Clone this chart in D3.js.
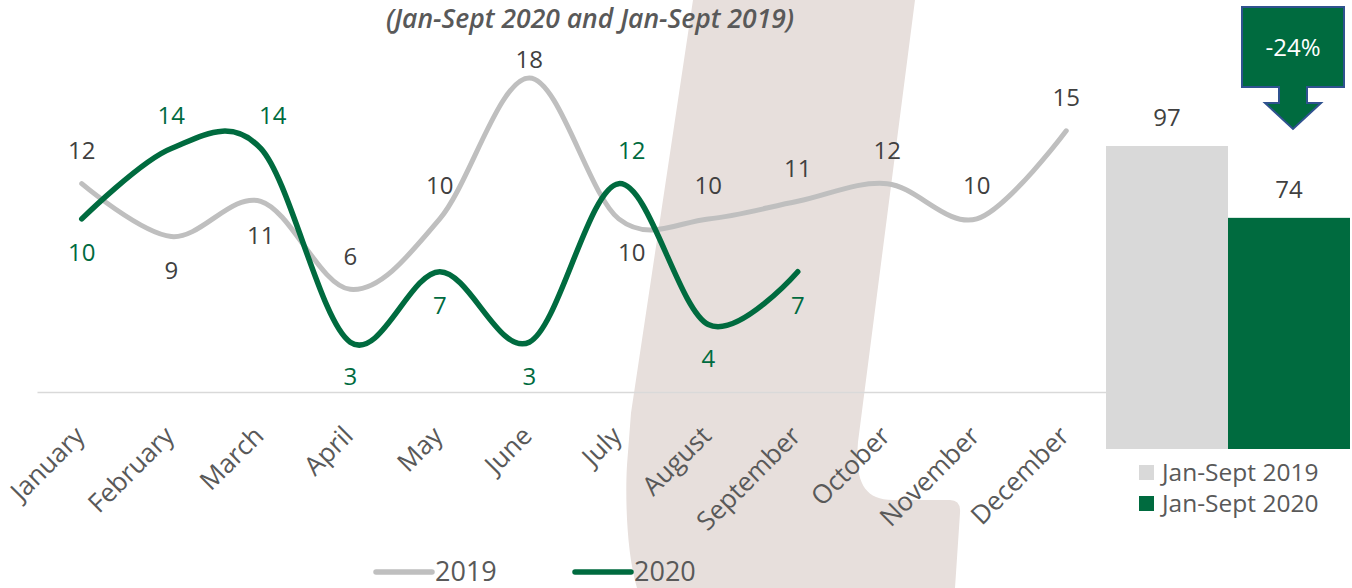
<!DOCTYPE html>
<html>
<head>
<meta charset="utf-8">
<script src="https://cdn.jsdelivr.net/npm/d3@7"></script>
<style>
  body { margin: 0; background: #fff; }
  text { font-family: "Open Sans", sans-serif; }
</style>
</head>
<body>
<div class="chart"></div>
<script>
// monthly values
const months = ['January', 'February', 'March', 'April', 'May', 'June', 'July',
  'August', 'September', 'October', 'November', 'December'];
const values2019 = [12, 9, 11, 6, 10, 18, 10, 10, 11, 12, 10, 15];
const values2020 = [10, 14, 14, 3, 7, 3, 12, 4, 7];

// where each data label sits (a = above the point, b = below)
const place2019 = ['a', 'b', 'b', 'a', 'a', 'a', 'b', 'a', 'a', 'a', 'a', 'a'];
const place2020 = ['b', 'a', 'a', 'b', 'b', 'b', 'a', 'b', 'b'];

// totals for the small bar chart on the right
const totalNames = ['Jan-Sept 2019', 'Jan-Sept 2020'];
const totals = [97, 74];

const title = '(Jan-Sept 2020 and Jan-Sept 2019)';

const grey = '#bfbfbf';
const green = '#006b3f';
const barGrey = '#d9d9d9';

const width = 1352;
const height = 588;

const svg = d3.select('.chart')
  .append('svg')
  .attr('width', width)
  .attr('height', height);

// big beige letter shape in the background
svg.append('path')
  .attr('d', 'M693,0 L915,0 L858,442 C855,478 862,500 893,500 L950,500 Q961,500 960,513 L955,588 L637,588 C627,555 625,500 627,465 L631,413 Z')
  .style('fill', '#e7dfdc');

// scales for the line chart
const x = d3.scaleBand()
  .domain(months)
  .range([37, 1111])
  .padding(0);

const y = d3.scaleLinear()
  .domain([0, 18])
  .range([395, 78]);

const cx = (d, i) => x(months[i]) + x.bandwidth() / 2;

// month axis, the domain line doubles as the baseline
const axis = svg.append('g')
  .attr('transform', 'translate(0,392)')
  .call(d3.axisBottom(x).tickSize(0).tickSizeOuter(0));

axis.select('.domain')
  .attr('stroke', '#d9d9d9')
  .attr('stroke-width', 1.5);

axis.selectAll('text')
  .attr('y', 0)
  .attr('dy', '0.35em')
  .attr('text-anchor', 'end')
  .attr('transform', 'translate(-2,39) rotate(-45)')
  .style('font-family', '"Open Sans", sans-serif')
  .style('font-size', '26px')
  .style('fill', '#595959');

const line = d3.line()
  .x(cx)
  .y(d => y(d))
  .curve(d3.curveCardinal.tension(0));

svg.append('path')
  .datum(values2019)
  .attr('d', line)
  .style('fill', 'none')
  .style('stroke', grey)
  .style('stroke-width', 5)
  .style('stroke-linecap', 'round');

svg.append('path')
  .datum(values2020)
  .attr('d', line)
  .style('fill', 'none')
  .style('stroke', green)
  .style('stroke-width', 5.5)
  .style('stroke-linecap', 'round');

// data labels, kept inside the plot area at the top
function labelY(v, p) {
  if (p == 'a') {
    return Math.max(y(v) - 33, 60);
  } else {
    return y(v) + 34;
  }
}

// a few labels were nudged sideways in the original
const nudge = { '2019-6': 13, '2020-2': 12, '2020-6': 13 };

svg.append('g')
  .selectAll('text')
  .data(values2019)
  .enter()
  .append('text')
  .text(d => d)
  .attr('x', (d, i) => cx(d, i) + (nudge['2019-' + i] || 0))
  .attr('y', (d, i) => labelY(d, place2019[i]))
  .attr('dy', '0.35em')
  .attr('text-anchor', 'middle')
  .style('font-size', '24px')
  .style('fill', '#404040');

svg.append('g')
  .selectAll('text')
  .data(values2020)
  .enter()
  .append('text')
  .text(d => d)
  .attr('x', (d, i) => cx(d, i) + (nudge['2020-' + i] || 0))
  .attr('y', (d, i) => labelY(d, place2020[i]))
  .attr('dy', '0.35em')
  .attr('text-anchor', 'middle')
  .style('font-size', '24px')
  .style('fill', green);

// subtitle
svg.append('text')
  .text(title)
  .attr('x', 590)
  .attr('y', 28)
  .attr('text-anchor', 'middle')
  .style('font-size', '26.5px')
  .style('font-style', 'italic')
  .style('font-weight', 600)
  .style('fill', '#595959');

// legend for the lines
const lineLegend = svg.append('g')
  .selectAll('g')
  .data([{ name: '2019', color: grey }, { name: '2020', color: green }])
  .enter()
  .append('g')
  .attr('transform', (d, i) => 'translate(' + (376 + i * 199) + ',572)');

lineLegend.append('line')
  .attr('x1', 0)
  .attr('x2', 56)
  .style('stroke', d => d.color)
  .style('stroke-width', 5.5)
  .style('stroke-linecap', 'round');

lineLegend.append('text')
  .text(d => d.name)
  .attr('x', 59)
  .attr('y', 9)
  .style('font-size', '27px')
  .style('fill', '#595959');

// bar chart of the totals
const xb = d3.scaleBand()
  .domain(totalNames)
  .range([1106, 1350])
  .padding(0);

const yb = d3.scaleLinear()
  .domain([0, 97])
  .range([449, 146]);

const barColors = [barGrey, green];

svg.append('g')
  .selectAll('rect')
  .data(totals)
  .enter()
  .append('rect')
  .attr('x', (d, i) => xb(totalNames[i]))
  .attr('y', d => yb(d))
  .attr('width', xb.bandwidth())
  .attr('height', d => yb(0) - yb(d))
  .style('fill', (d, i) => barColors[i]);

svg.append('g')
  .selectAll('text')
  .data(totals)
  .enter()
  .append('text')
  .text(d => d)
  .attr('x', (d, i) => xb(totalNames[i]) + xb.bandwidth() / 2)
  .attr('y', d => yb(d) - 28)
  .attr('dy', '0.35em')
  .attr('text-anchor', 'middle')
  .style('font-size', '24px')
  .style('fill', '#404040');

// legend for the bars
const barLegend = svg.append('g')
  .selectAll('g')
  .data(totalNames)
  .enter()
  .append('g')
  .attr('transform', (d, i) => 'translate(1139,' + (465 + i * 31) + ')');

barLegend.append('rect')
  .attr('width', 15)
  .attr('height', 15)
  .style('fill', (d, i) => barColors[i]);

barLegend.append('text')
  .text(d => d)
  .attr('x', 23)
  .attr('y', 7.5)
  .attr('dy', '0.35em')
  .style('font-size', '24.5px')
  .style('fill', '#595959');

// arrow with the change in percent
const change = Math.round((totals[1] - totals[0]) / totals[0] * 100);
const ax = xb(totalNames[1]) + xb.bandwidth() / 2 + 4;
const arrow = svg.append('g')
  .attr('transform', 'translate(' + ax + ',7)');

arrow.append('path')
  .attr('d', 'M-51,0 H51 V80 H14 V96 H28 L0,122 L-28,96 H-14 V80 H-51 Z')
  .style('fill', green)
  .style('stroke', '#2f528f')
  .style('stroke-width', 2);

arrow.append('text')
  .text(change + '%')
  .attr('y', 41)
  .attr('dy', '0.35em')
  .attr('text-anchor', 'middle')
  .style('font-size', '24px')
  .style('fill', '#fff');
</script>
</body>
</html>
